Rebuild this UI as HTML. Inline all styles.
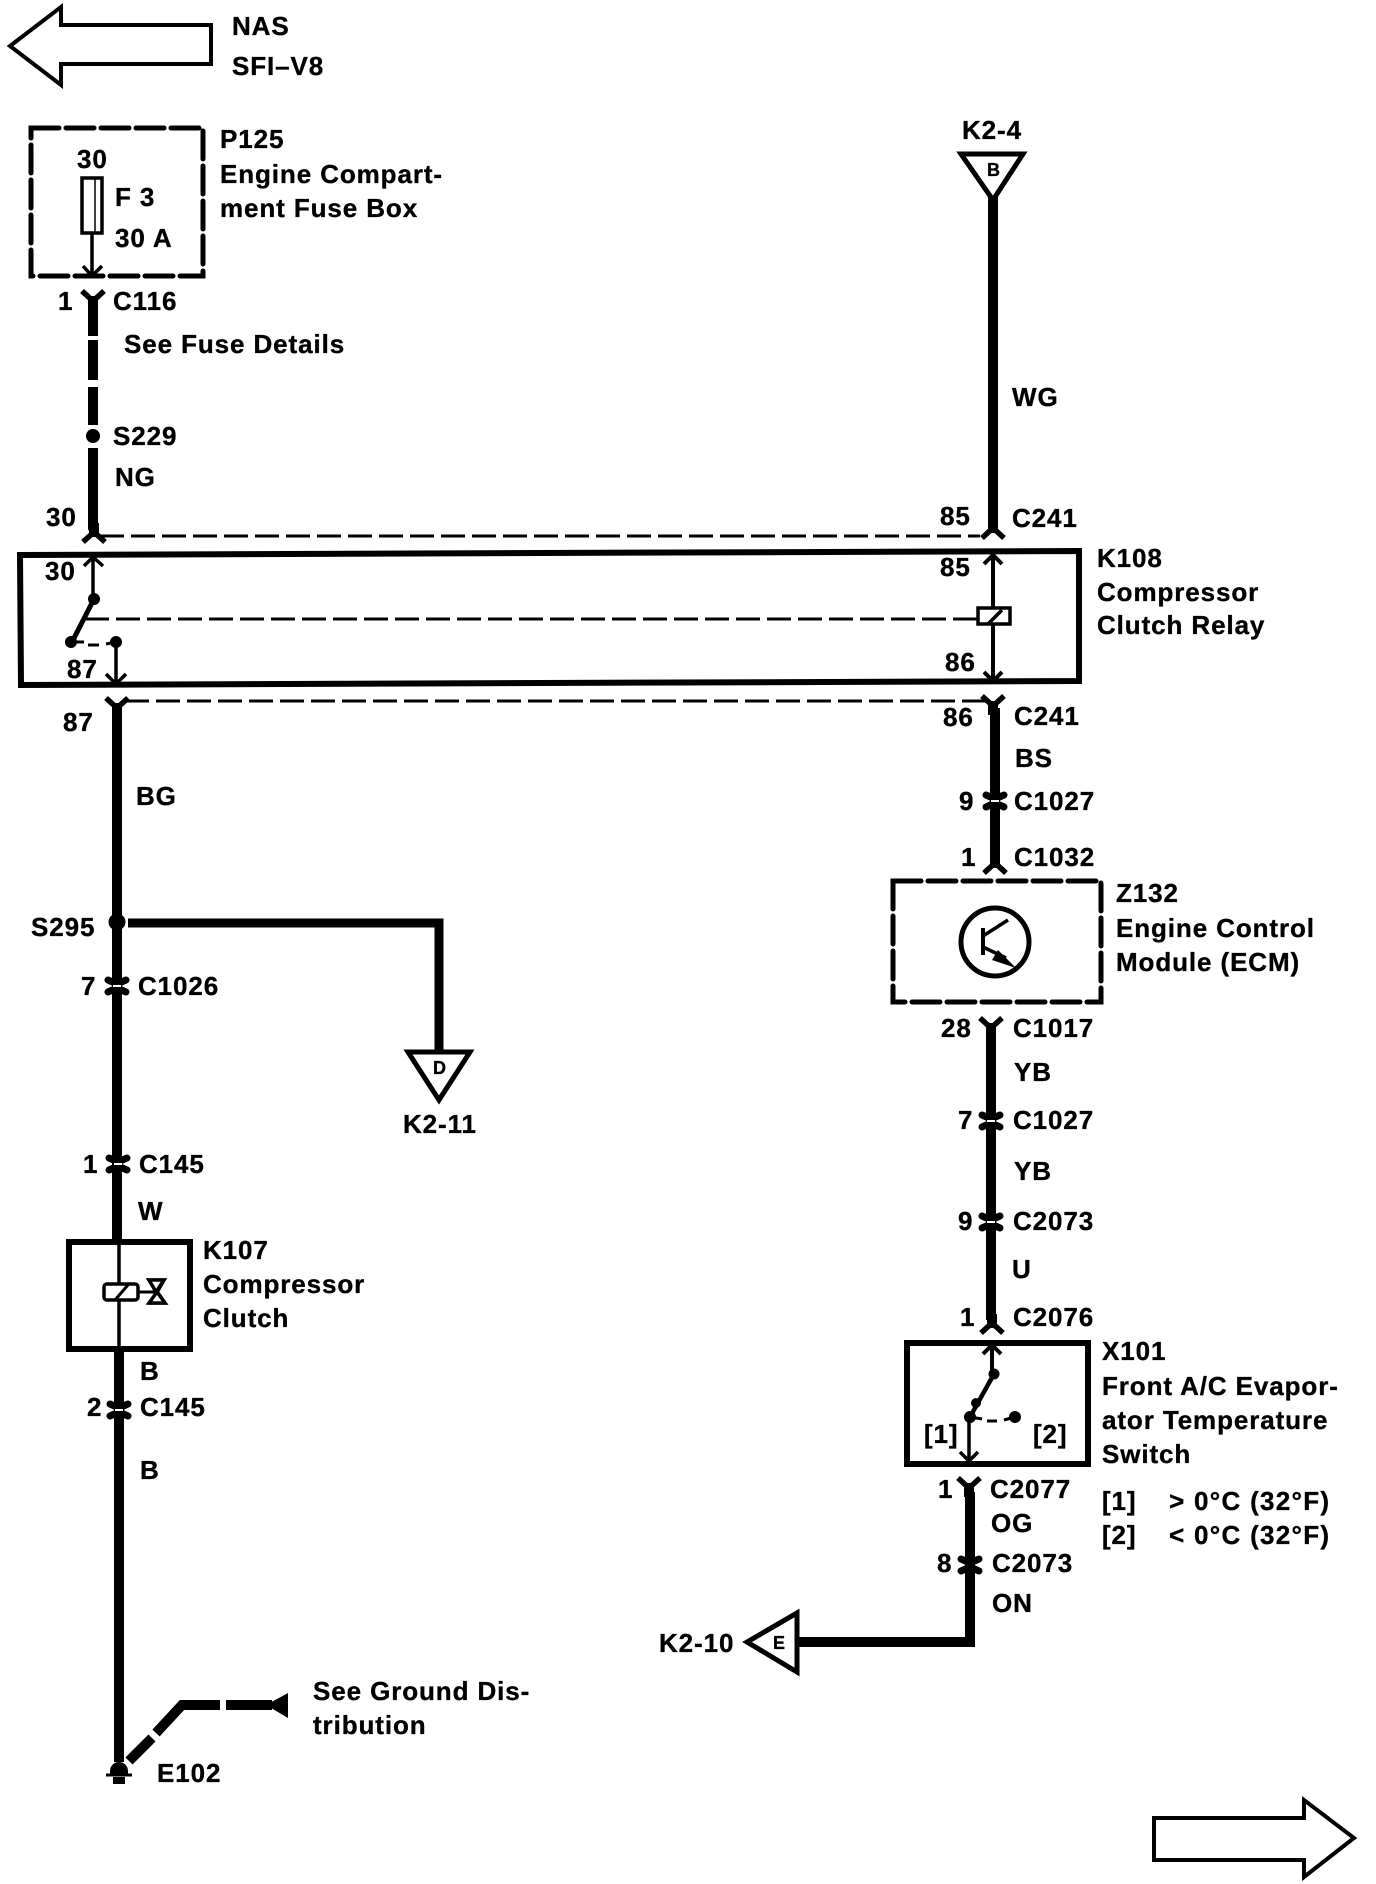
<!DOCTYPE html>
<html><head><meta charset="utf-8"><style>
html,body{margin:0;padding:0;background:#fff}
svg{display:block}
text{font-family:"Liberation Sans",Arial,sans-serif;font-weight:bold;font-size:26px;letter-spacing:.9px;fill:#000;stroke:#000;stroke-width:.35px}
</style></head><body>
<svg width="1376" height="1884" viewBox="0 0 1376 1884" xmlns="http://www.w3.org/2000/svg">
<defs>
<g id="fd"><path d="M-11,-7 L0,3 L11,-7" fill="none" stroke="#000" stroke-width="5.5"/><path d="M-5,-2H5L5,12H-5Z" fill="#000"/></g>
<g id="fu"><path d="M-11,7 L0,-3 L11,7" fill="none" stroke="#000" stroke-width="5.5"/><path d="M-5,2H5L5,-12H-5Z" fill="#000"/></g>
<g id="cx"><path d="M-9,-6 L0,-2 L9,-6 M-9,6 L0,2 L9,6" fill="none" stroke="#000" stroke-width="7" stroke-linecap="round"/><path d="M-4,0H4" stroke="#fff" stroke-width="2"/></g>
</defs>

<!-- page arrows -->
<path d="M10,46 L61,7 V25 H211 V64 H61 V85 Z" fill="#fff" stroke="#000" stroke-width="4"/>
<path d="M1154,1818 H1304 V1800 L1354,1838 L1304,1877 V1860 H1154 Z" fill="#fff" stroke="#000" stroke-width="4"/>
<text x="232" y="35">NAS</text><text x="232" y="75">SFI–V8</text>

<!-- fuse box -->
<rect x="31" y="128" width="172" height="148" fill="none" stroke="#000" stroke-width="5" stroke-dasharray="28 7" stroke-linecap="round"/>
<rect x="82" y="178" width="20" height="55" fill="#fff" stroke="#000" stroke-width="3.5"/>
<path d="M95,179 V232" stroke="#000" stroke-width="1.5"/>
<path d="M92,233 V275 M83,266 L92,276 L102,266" fill="none" stroke="#000" stroke-width="3.5"/>
<text x="77" y="168">30</text><text x="115" y="206">F 3</text><text x="115" y="247">30 A</text>
<text x="220" y="148">P125</text><text x="220" y="183">Engine Compart-</text><text x="220" y="217">ment Fuse Box</text>
<text x="58" y="310">1</text><text x="113" y="310">C116</text>
<text x="124" y="353">See Fuse Details</text>
<use href="#fd" x="93" y="298"/>
<path d="M93,310 V336 M93,340 V380 M93,387 V425 M93,448 V530" stroke="#000" stroke-width="10"/>
<circle cx="93" cy="436" r="7"/>
<text x="113" y="445">S229</text><text x="115" y="486">NG</text>
<text x="46" y="526">30</text>
<use href="#fu" x="94" y="535"/>

<!-- top dashed -->
<path d="M100,536 H980" stroke="#000" stroke-width="3" stroke-dasharray="24 7" fill="none"/>
<text x="940" y="525">85</text><text x="1012" y="527">C241</text>
<use href="#fu" x="993" y="531"/>

<!-- K108 -->
<path d="M20,555 L1079,551 V681 L21,685 Z" fill="#fff" stroke="#000" stroke-width="6"/>
<text x="45" y="580">30</text><text x="67" y="678">87</text>
<path d="M93,558 V599 M84,566 L93,557 L103,566" fill="none" stroke="#000" stroke-width="3.5"/>
<circle cx="94" cy="599" r="6"/><circle cx="71" cy="642" r="6"/><circle cx="116" cy="642" r="6"/>
<path d="M94,599 L72,642" stroke="#000" stroke-width="5"/>
<path d="M71,642 L84,642 M88,645 H99 M106,644 L116,642" stroke="#000" stroke-width="3"/>
<path d="M116,642 V682 M106,674 L116,684 L126,674" fill="none" stroke="#000" stroke-width="3.5"/>
<path d="M85,619 H978" stroke="#000" stroke-width="3" stroke-dasharray="24 7" fill="none"/>
<path d="M993,556 V608 M993,624 V678 M984,564 L993,555 L1002,564 M984,672 L993,681 L1002,672" fill="none" stroke="#000" stroke-width="4"/>
<rect x="978" y="608" width="32" height="16" fill="#fff" stroke="#000" stroke-width="3.5"/>
<path d="M988,624 L1002,610" stroke="#000" stroke-width="3.5"/>
<text x="940" y="576">85</text><text x="945" y="671">86</text>
<text x="1097" y="567">K108</text><text x="1097" y="601">Compressor</text><text x="1097" y="634">Clutch Relay</text>

<!-- bottom dashed -->
<path d="M125,701 H985" stroke="#000" stroke-width="3" stroke-dasharray="24 7" fill="none"/>
<use href="#fd" x="117" y="705"/><use href="#fd" x="993" y="703"/>
<text x="63" y="731">87</text><text x="943" y="726">86</text><text x="1014" y="725">C241</text>

<!-- left main wire -->
<path d="M117,712 V1241" stroke="#000" stroke-width="10"/>
<text x="136" y="805">BG</text>
<circle cx="117" cy="922" r="8.5"/>
<text x="31" y="936">S295</text>
<path d="M128,923 H439 V1053" fill="none" stroke="#000" stroke-width="9"/>
<path d="M408,1052 H470 L439,1100 Z" fill="#fff" stroke="#000" stroke-width="5"/>
<text x="433" y="1074" style="font-size:18px;letter-spacing:0">D</text>
<text x="403" y="1133">K2-11</text>
<use href="#cx" x="117" y="986"/>
<text x="81" y="995">7</text><text x="138" y="995">C1026</text>
<use href="#cx" x="118" y="1164"/>
<text x="83" y="1173">1</text><text x="139" y="1173">C145</text>
<text x="138" y="1220">W</text>

<!-- K107 -->
<rect x="69" y="1242" width="121" height="107" fill="#fff" stroke="#000" stroke-width="6"/>
<path d="M119,1244 V1347" stroke="#000" stroke-width="3.5"/>
<rect x="104" y="1284" width="34" height="16" rx="3" fill="#fff" stroke="#000" stroke-width="3.5"/>
<path d="M115,1300 L128,1285" stroke="#000" stroke-width="3"/>
<path d="M138,1292 H155" stroke="#000" stroke-width="3"/>
<path d="M149,1280 H164 L151,1303 H165 Z" fill="none" stroke="#000" stroke-width="3.5"/>
<path d="M149,1280 H164 L156,1292 Z M149,1303 H165 L157,1292 Z" fill="#fff" stroke="#000" stroke-width="3.5"/>
<text x="203" y="1259">K107</text><text x="203" y="1293">Compressor</text><text x="203" y="1327">Clutch</text>
<path d="M119,1349 V1762" stroke="#000" stroke-width="10"/>
<text x="140" y="1380">B</text>
<use href="#cx" x="119" y="1410"/>
<text x="87" y="1416">2</text><text x="140" y="1416">C145</text>
<text x="140" y="1479">B</text>

<!-- ground -->
<path d="M129,1761 L152,1738 M156,1733 L182,1705 H220 M226,1705 H272" fill="none" stroke="#000" stroke-width="10"/>
<path d="M266,1705 L288,1693 V1718 Z" fill="#000"/>
<path d="M110,1775 V1771 A8.5,8.5 0 0 1 128,1771 V1775 Z" fill="#000"/>
<path d="M106,1775 H132" stroke="#000" stroke-width="3"/>
<rect x="113" y="1777" width="12" height="7" fill="#000"/>
<text x="157" y="1782">E102</text>
<text x="313" y="1700">See Ground Dis-</text><text x="313" y="1734">tribution</text>

<!-- right top -->
<path d="M993,196 V530" stroke="#000" stroke-width="10"/>
<path d="M961,154 H1023 L993,200 Z" fill="#fff" stroke="#000" stroke-width="5"/>
<text x="987" y="176" style="font-size:18px;letter-spacing:0">B</text>
<text x="962" y="139">K2-4</text>
<text x="1012" y="406">WG</text>

<!-- right middle -->
<path d="M995,708 V860" stroke="#000" stroke-width="10"/>
<text x="1015" y="767">BS</text>
<use href="#cx" x="995" y="801"/>
<text x="959" y="810">9</text><text x="1014" y="810">C1027</text>
<use href="#fu" x="995" y="866"/>
<text x="961" y="866">1</text><text x="1014" y="866">C1032</text>

<!-- Z132 -->
<rect x="893" y="881" width="208" height="121" fill="none" stroke="#000" stroke-width="5" stroke-dasharray="28 7" stroke-linecap="round"/>
<circle cx="995" cy="942" r="34" fill="#fff" stroke="#000" stroke-width="5"/>
<path d="M983,928 V955" stroke="#000" stroke-width="4"/>
<path d="M983,936 L1008,920 M983,947 L1006,958" stroke="#000" stroke-width="3.5" fill="none"/>
<path d="M998,950 L1016,968 L992,960 Z" fill="#000"/>
<text x="1116" y="902">Z132</text><text x="1116" y="937">Engine Control</text><text x="1116" y="971">Module (ECM)</text>

<!-- right lower -->
<use href="#fd" x="991" y="1025"/>
<text x="941" y="1037">28</text><text x="1013" y="1037">C1017</text>
<path d="M991,1032 V1320" stroke="#000" stroke-width="10"/>
<text x="1014" y="1081">YB</text>
<use href="#cx" x="991" y="1121"/>
<text x="958" y="1129">7</text><text x="1013" y="1129">C1027</text>
<text x="1014" y="1180">YB</text>
<use href="#cx" x="991" y="1222"/>
<text x="958" y="1230">9</text><text x="1013" y="1230">C2073</text>
<text x="1012" y="1278">U</text>
<use href="#fu" x="992" y="1326"/>
<text x="960" y="1326">1</text><text x="1013" y="1326">C2076</text>

<!-- X101 -->
<rect x="907" y="1343" width="181" height="121" fill="#fff" stroke="#000" stroke-width="6"/>
<path d="M992,1346 V1374 M983,1354 L992,1345 L1001,1354" fill="none" stroke="#000" stroke-width="4"/>
<circle cx="994" cy="1374" r="5.5"/><circle cx="976" cy="1403" r="5"/><circle cx="970" cy="1417" r="6"/><circle cx="1015" cy="1417" r="6"/>
<path d="M994,1374 L970,1417" stroke="#000" stroke-width="4.5"/>
<path d="M970,1417 L982,1419 M987,1421 H997 M1004,1420 L1015,1417" stroke="#000" stroke-width="3"/>
<path d="M969,1417 V1460 M960,1452 L969,1461 L978,1452" fill="none" stroke="#000" stroke-width="3.5"/>
<text x="924" y="1443">[1]</text><text x="1033" y="1443">[2]</text>
<text x="1102" y="1360">X101</text><text x="1102" y="1395">Front A/C Evapor-</text><text x="1102" y="1429">ator Temperature</text><text x="1102" y="1463">Switch</text>
<text x="1102" y="1510">[1]</text><text x="1169" y="1510" style="letter-spacing:1.3px">&gt; 0°C (32°F)</text>
<text x="1102" y="1544">[2]</text><text x="1169" y="1544" style="letter-spacing:1.3px">&lt; 0°C (32°F)</text>
<use href="#fd" x="969" y="1485"/>
<text x="938" y="1498">1</text><text x="990" y="1498">C2077</text>
<text x="991" y="1532">OG</text>
<use href="#cx" x="970" y="1565"/>
<text x="937" y="1572">8</text><text x="992" y="1572">C2073</text>
<text x="992" y="1612">ON</text>
<path d="M970,1492 V1642 H795" fill="none" stroke="#000" stroke-width="10"/>
<path d="M797,1613 V1672 L747,1642 Z" fill="#fff" stroke="#000" stroke-width="5"/>
<text x="773" y="1649" style="font-size:18px;letter-spacing:0">E</text>
<text x="659" y="1652">K2-10</text>
</svg>
</body></html>
